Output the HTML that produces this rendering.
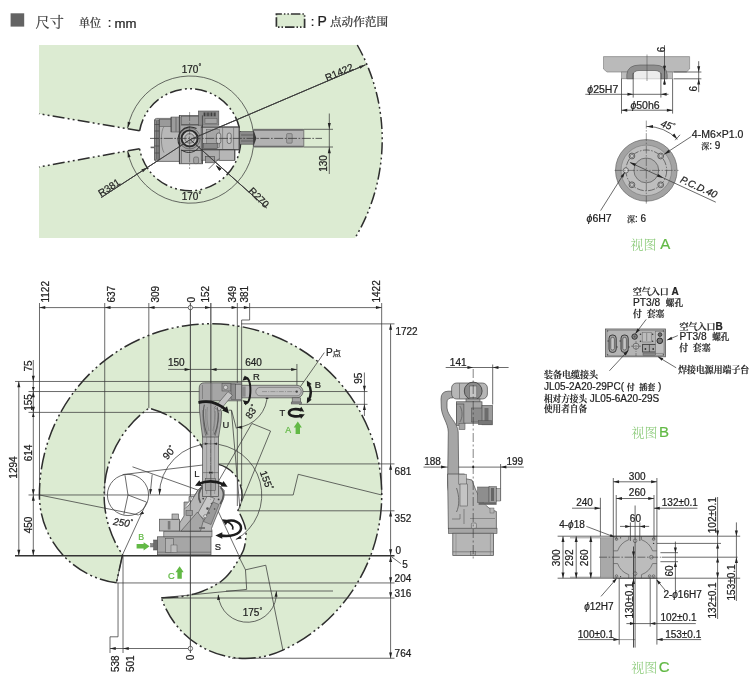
<!DOCTYPE html>
<html lang="zh-CN">
<head>
<meta charset="utf-8">
<title>尺寸</title>
<style>
html,body{margin:0;padding:0;background:#fff;}
body{width:752px;height:677px;overflow:hidden;font-family:"Liberation Sans","Noto Serif CJK SC",sans-serif;}
svg{display:block;will-change:transform;}
text{white-space:pre;}
</style>
</head>
<body>
<svg width="752" height="677" viewBox="0 0 752 677">
<rect x="0" y="0" width="752" height="677" fill="#ffffff"/>
<rect x="10.6" y="13.3" width="13.6" height="13.3" rx="0" fill="#636363" stroke="none" stroke-width="0.6" />
<text x="35.5" y="26.8" font-size="14.2" text-anchor="start" fill="#3c3c3c" stroke="#3c3c3c" stroke-width="0.22" font-family='"Liberation Sans", "Noto Serif CJK SC", serif' >尺寸</text>
<text x="79" y="27" font-size="11" text-anchor="start" fill="#3a3a3a" stroke="#3a3a3a" stroke-width="0.22" font-family='"Liberation Sans", "Noto Serif CJK SC", serif' font-weight="500" >单位</text>
<text x="107.8" y="27.2" font-size="13" text-anchor="start" fill="#222" stroke="#222" stroke-width="0.22" font-family='"Liberation Sans", sans-serif' >:</text>
<text x="114.6" y="27.6" font-size="13.2" text-anchor="start" fill="#222" stroke="#222" stroke-width="0.22" font-family='"Liberation Sans", sans-serif' >mm</text>
<rect x="276.4" y="14" width="28.2" height="13.2" rx="0" fill="#dcebd2" stroke="#333" stroke-width="1.7" stroke-dasharray="9.5 2 1.5 2 1.5 2" stroke-dashoffset="4"/>
<text x="310.8" y="25.6" font-size="13" text-anchor="start" fill="#222" stroke="#222" stroke-width="0.22" font-family='"Liberation Sans", sans-serif' >:</text>
<text x="317.4" y="26.4" font-size="14" text-anchor="start" fill="#222" stroke="#222" stroke-width="0.22" font-family='"Liberation Sans", sans-serif' >P</text>
<text x="330" y="25.8" font-size="11.6" text-anchor="start" fill="#3a3a3a" stroke="#3a3a3a" stroke-width="0.22" font-family='"Liberation Sans", "Noto Serif CJK SC", serif' font-weight="500" >点动作范围</text>
<path d="M39,45 L357.28,45 A192.0,192.0 0 0 1 355.07,238 L39,238 L39,167 L139.6,148.7 A51.0,51.0 0 1 0 139.6,130.8 L39,113.75 Z" fill="#dcebd2" stroke="none" stroke-width="0" />
<path d="M357.28,45 A192.0,192.0 0 0 1 355.07,238" fill="none" stroke="#2e2e2e" stroke-width="1.5" stroke-dasharray="12 3.2 1.9 3.2 1.9 3.2" stroke-linecap="butt"/>
<path d="M139.6,130.8 L39,113.75" fill="none" stroke="#2e2e2e" stroke-width="1.5" stroke-dasharray="12 3.2 1.9 3.2 1.9 3.2" stroke-linecap="butt"/>
<path d="M139.6,148.7 L39,167" fill="none" stroke="#2e2e2e" stroke-width="1.5" stroke-dasharray="12 3.2 1.9 3.2 1.9 3.2" stroke-linecap="butt"/>
<path d="M139.6,130.8 A51.0,51.0 0 1 1 139.6,148.7" fill="none" stroke="#2e2e2e" stroke-width="1.5" stroke-dasharray="12 3.2 1.9 3.2 1.9 3.2" stroke-linecap="butt"/>
<path d="M127.62,128.23 A63.6,63.6 0 1 1 127.62,150.97" fill="none" stroke="#3a3a3a" stroke-width="0.75" />
<path d="M127.62,128.23 L127.73,121.73 L130.64,122.47 Z" fill="#222"/>
<path d="M127.62,150.97 L130.64,156.73 L127.73,157.47 Z" fill="#222"/>
<text x="191.5" y="72.6" font-size="10" text-anchor="middle" fill="#222" stroke="#222" stroke-width="0.22" font-family='"Liberation Sans", sans-serif' >170<tspan font-size="7" dy="-3.2">°</tspan></text>
<text x="191.5" y="200.3" font-size="10" text-anchor="middle" fill="#222" stroke="#222" stroke-width="0.22" font-family='"Liberation Sans", sans-serif' >170<tspan font-size="7" dy="-3.2">°</tspan></text>
<line x1="190.2" y1="139.6" x2="365.5" y2="64.8" stroke="#3a3a3a" stroke-width="0.75" />
<path d="M365.5,64.8 L360.27,68.66 L359.09,65.9 Z" fill="#222"/>
<text x="340.5" y="75.5" font-size="10" text-anchor="middle" fill="#222" stroke="#222" stroke-width="0.22" font-family='"Liberation Sans", sans-serif' transform="rotate(-23.5 340.5 75.5)" >R1422</text>
<line x1="190.2" y1="139.6" x2="101.25" y2="197.5" stroke="#3a3a3a" stroke-width="0.75" />
<path d="M147.46,167.42 L142.97,172.13 L141.34,169.62 Z" fill="#222"/>
<text x="111" y="190.5" font-size="10" text-anchor="middle" fill="#222" stroke="#222" stroke-width="0.22" font-family='"Liberation Sans", sans-serif' transform="rotate(-33 111 190.5)" >R381</text>
<line x1="190.2" y1="139.6" x2="266.5" y2="207.8" stroke="#3a3a3a" stroke-width="0.75" />
<path d="M215.87,165.27 L221.4,168.68 L219.28,170.8 Z" fill="#222"/>
<text x="256.5" y="200" font-size="10" text-anchor="middle" fill="#222" stroke="#222" stroke-width="0.22" font-family='"Liberation Sans", sans-serif' transform="rotate(45 256.5 200)" >R270</text>
<line x1="303.5" y1="129.3" x2="333" y2="129.3" stroke="#3a3a3a" stroke-width="0.75" />
<line x1="303.5" y1="147" x2="333" y2="147" stroke="#3a3a3a" stroke-width="0.75" />
<line x1="329.3" y1="113.5" x2="329.3" y2="174" stroke="#3a3a3a" stroke-width="0.75" />
<path d="M329.3,129.3 L327.8,122.98 L330.8,122.98 Z" fill="#222"/>
<path d="M329.3,147 L330.8,153.32 L327.8,153.32 Z" fill="#222"/>
<text x="327.2" y="163.5" font-size="10" text-anchor="middle" fill="#222" stroke="#222" stroke-width="0.22" font-family='"Liberation Sans", sans-serif' transform="rotate(-90 327.2 163.5)" >130</text>
<rect x="253.4" y="129.3" width="50.4" height="17.8" rx="1" fill="#b2b2b2" stroke="#5a5a5a" stroke-width="0.7" />
<rect x="286.6" y="133.6" width="5.6" height="9.6" rx="1" fill="#a2a2a2" stroke="#555" stroke-width="0.5" />
<line x1="253.6" y1="130" x2="303.6" y2="130" stroke="#6a6a6a" stroke-width="1.3" />
<line x1="253.6" y1="146.4" x2="303.6" y2="146.4" stroke="#6a6a6a" stroke-width="1.3" />
<rect x="239" y="131.6" width="14.4" height="12.6" rx="0" fill="#8a8a8a" stroke="#4a4a4a" stroke-width="0.6" />
<line x1="241" y1="135" x2="253" y2="135" stroke="#444" stroke-width="0.6" />
<line x1="241" y1="141" x2="253" y2="141" stroke="#444" stroke-width="0.6" />
<path d="M253.4,129.6 L253.4,146.8 L256.4,138.2 Z" fill="#3a3a3a" stroke="none" stroke-width="0" />
<rect x="154.6" y="118.4" width="26.4" height="43" rx="2" fill="#b8b8b8" stroke="#4a4a4a" stroke-width="0.7" />
<rect x="154.6" y="120" width="4.6" height="40" rx="0" fill="#8c8c8c" stroke="#4a4a4a" stroke-width="0.5" />
<rect x="159.2" y="119.4" width="12" height="7" rx="0" fill="#9a9a9a" stroke="#4a4a4a" stroke-width="0.5" />
<rect x="150.6" y="146.6" width="4" height="1.6" rx="0" fill="#666" stroke="none" stroke-width="0.6" />
<path d="M164,126.5 C160.5,131 160.5,147 164,152.6" fill="none" stroke="#666" stroke-width="0.6" />
<rect x="179.4" y="115.4" width="23" height="48.4" rx="0" fill="#a9a9a9" stroke="#4a4a4a" stroke-width="0.7" />
<rect x="171" y="117" width="9" height="15" rx="0" fill="#9c9c9c" stroke="#4a4a4a" stroke-width="0.5" />
<rect x="181.4" y="150.6" width="20" height="13" rx="0" fill="#b4b4b4" stroke="#4a4a4a" stroke-width="0.5" />
<rect x="193.6" y="157" width="5" height="6.6" rx="1.6" fill="#a2a2a2" stroke="#4a4a4a" stroke-width="0.5" />
<rect x="198.4" y="111" width="20.4" height="14.2" rx="0" fill="#8c8c8c" stroke="#4a4a4a" stroke-width="0.6" />
<rect x="203" y="112.4" width="13" height="4" rx="0" fill="#6e6e6e" stroke="none" stroke-width="0.6" />
<rect x="205" y="118.6" width="12" height="4.6" rx="0" fill="#a4a4a4" stroke="#555" stroke-width="0.4" />
<rect x="181.6" y="116.6" width="17" height="8" rx="0" fill="#9e9e9e" stroke="#4a4a4a" stroke-width="0.5" />
<rect x="201.2" y="127" width="38" height="22.8" rx="0" fill="#b8b8b8" stroke="#4a4a4a" stroke-width="0.7" />
<rect x="206.4" y="129.4" width="13" height="18" rx="0" fill="#a6a6a6" stroke="#666" stroke-width="0.5" />
<rect x="216.4" y="133" width="4.4" height="10.6" rx="2" fill="#c6c6c6" stroke="#444" stroke-width="0.6" />
<rect x="227.2" y="133" width="4" height="10.6" rx="2" fill="#c6c6c6" stroke="#444" stroke-width="0.6" />
<rect x="201.2" y="149.8" width="33.6" height="10.4" rx="0" fill="#adadad" stroke="#4a4a4a" stroke-width="0.6" />
<rect x="205.6" y="156.6" width="9" height="6.2" rx="0" fill="#9a9a9a" stroke="#444" stroke-width="0.6" />
<rect x="219.2" y="149.8" width="15.6" height="10.4" rx="0" fill="#b6b6b6" stroke="#4a4a4a" stroke-width="0.5" />
<circle cx="189.6" cy="138.4" r="10.6" fill="#9a9a9a" stroke="#555" stroke-width="0.6" />
<circle cx="189.6" cy="138.4" r="8" fill="#c4c4c4" stroke="#2a2a2a" stroke-width="1.9" />
<circle cx="189.6" cy="138.4" r="4.8" fill="#b4b4b4" stroke="#444" stroke-width="0.6" />
<line x1="150" y1="138.4" x2="322" y2="138.4" stroke="#3a3a3a" stroke-width="0.5" stroke-dasharray="9 1.6 1.6 1.6"/>
<line x1="189.6" y1="112" x2="189.6" y2="169" stroke="#3a3a3a" stroke-width="0.5" stroke-dasharray="9 1.6 1.6 1.6"/>
<line x1="208.8" y1="168.8" x2="219" y2="158.6" stroke="#3a3a3a" stroke-width="0.75" />
<line x1="190.2" y1="139.6" x2="365.5" y2="64.8" stroke="#3a3a3a" stroke-width="0.75" />
<line x1="190.2" y1="139.6" x2="101.25" y2="197.5" stroke="#3a3a3a" stroke-width="0.75" />
<line x1="190.2" y1="139.6" x2="266.5" y2="207.8" stroke="#3a3a3a" stroke-width="0.75" />
<path d="M215.87,165.27 L221.4,168.68 L219.28,170.8 Z" fill="#222"/>
<line x1="156.8" y1="121" x2="156.8" y2="159" stroke="#3c3c3c" stroke-width="0.6" />
<line x1="159.2" y1="120" x2="159.2" y2="160" stroke="#3c3c3c" stroke-width="0.7" />
<line x1="154.6" y1="124.5" x2="159.2" y2="124.5" stroke="#3c3c3c" stroke-width="0.6" />
<line x1="154.6" y1="131" x2="159.2" y2="131" stroke="#3c3c3c" stroke-width="0.6" />
<line x1="154.6" y1="146" x2="159.2" y2="146" stroke="#3c3c3c" stroke-width="0.6" />
<line x1="154.6" y1="153" x2="159.2" y2="153" stroke="#3c3c3c" stroke-width="0.6" />
<line x1="171.2" y1="117" x2="171.2" y2="132" stroke="#3c3c3c" stroke-width="0.7" />
<line x1="176" y1="117.4" x2="176" y2="131.6" stroke="#3c3c3c" stroke-width="0.5" />
<line x1="179.4" y1="115.4" x2="179.4" y2="163.8" stroke="#3c3c3c" stroke-width="0.9" />
<line x1="202.4" y1="115.4" x2="202.4" y2="163.8" stroke="#3c3c3c" stroke-width="0.8" />
<line x1="181" y1="150.4" x2="202" y2="150.4" stroke="#3c3c3c" stroke-width="0.7" />
<line x1="181" y1="125" x2="199" y2="125" stroke="#3c3c3c" stroke-width="0.7" />
<path d="M196.5,128.6 A12.4,12.4 0 0 0 180.2,146.5" fill="none" stroke="#2e2e2e" stroke-width="1.1" />
<path d="M181.5,150 A12.4,12.4 0 0 0 199.6,146.4" fill="none" stroke="#2e2e2e" stroke-width="1.0" />
<line x1="204.6" y1="112.6" x2="204.6" y2="116.2" stroke="#2a2a2a" stroke-width="0.8" />
<line x1="208" y1="112.6" x2="208" y2="116.2" stroke="#2a2a2a" stroke-width="0.8" />
<line x1="211.4" y1="112.6" x2="211.4" y2="116.2" stroke="#2a2a2a" stroke-width="0.8" />
<line x1="214.8" y1="112.6" x2="214.8" y2="116.2" stroke="#2a2a2a" stroke-width="0.8" />
<line x1="201.2" y1="127" x2="239.2" y2="127" stroke="#3c3c3c" stroke-width="0.9" />
<line x1="201.2" y1="149.8" x2="239.2" y2="149.8" stroke="#3c3c3c" stroke-width="0.8" />
<line x1="239.2" y1="127" x2="239.2" y2="149.8" stroke="#3c3c3c" stroke-width="0.9" />
<line x1="222.6" y1="127.4" x2="222.6" y2="149.6" stroke="#555" stroke-width="0.5" />
<line x1="233.6" y1="127.4" x2="233.6" y2="149.6" stroke="#555" stroke-width="0.5" />
<rect x="203.2" y="143.6" width="14" height="5" rx="0" fill="#8a8a8a" stroke="#3c3c3c" stroke-width="0.5" />
<line x1="234.8" y1="150" x2="234.8" y2="160.2" stroke="#3c3c3c" stroke-width="0.8" />
<line x1="190.2" y1="139.6" x2="365.5" y2="64.8" stroke="#3a3a3a" stroke-width="0.75" />
<line x1="190.2" y1="139.6" x2="101.25" y2="197.5" stroke="#3a3a3a" stroke-width="0.75" />
<line x1="190.2" y1="139.6" x2="266.5" y2="207.8" stroke="#3a3a3a" stroke-width="0.75" />
<line x1="150" y1="138.4" x2="322" y2="138.4" stroke="#3a3a3a" stroke-width="0.5" stroke-dasharray="9 1.6 1.6 1.6"/>
<path d="M116.4,582.8 A88.57,88.57 0 0 1 39.42,494.98 A171.15,171.15 0 1 1 282.91,650.09 A88.57,88.57 0 0 1 161.4,597.8 C162.67,597.77 166.47,597.72 169,597.6 C171.53,597.48 173.85,597.38 176.6,597.1 C179.35,596.82 182.55,596.43 185.5,595.9 C188.45,595.37 191.47,594.68 194.3,593.9 C197.13,593.12 199.83,592.23 202.5,591.2 C205.17,590.17 208.05,588.78 210.3,587.7 C212.55,586.62 214.23,585.73 216,584.7 C217.77,583.67 219.32,582.7 220.9,581.5 C222.48,580.3 224.02,578.97 225.5,577.5 C226.98,576.03 228.38,574.45 229.8,572.7 C231.22,570.95 232.63,568.98 234,567 C235.37,565.02 236.8,562.83 238,560.8 C239.2,558.77 240.25,556.68 241.2,554.8 C242.15,552.92 243,551.67 243.7,549.5 C244.4,547.33 245.02,544.63 245.4,541.8 C245.78,538.97 246.15,535.33 246,532.5 C245.85,529.67 245.27,527.38 244.5,524.8 C243.73,522.22 242.48,519.4 241.4,517 C240.32,514.6 238.57,511.5 238,510.4 A31.7,31.7 0 0 0 210.28,463.28 A89.26,89.26 0 0 0 148.9,408.2 A106.46,106.46 0 0 0 122.52,554.81 L116.4,582.8 Z" fill="#dcebd2" stroke="none" stroke-width="0" />
<line x1="39.49" y1="303" x2="39.49" y2="494.98" stroke="#3a3a3a" stroke-width="0.75" />
<line x1="104.72" y1="303" x2="104.72" y2="494.98" stroke="#3a3a3a" stroke-width="0.75" />
<line x1="148.84" y1="303" x2="148.84" y2="408.2" stroke="#3a3a3a" stroke-width="0.75" />
<line x1="190.4" y1="303" x2="190.4" y2="653" stroke="#3a3a3a" stroke-width="0.75" />
<line x1="210.84" y1="303" x2="210.84" y2="400" stroke="#3a3a3a" stroke-width="0.75" />
<line x1="237.34" y1="303" x2="237.34" y2="506" stroke="#3a3a3a" stroke-width="0.75" />
<path d="M249.64,303 L249.64,320 L241.64,320 L241.64,486" fill="none" stroke="#3a3a3a" stroke-width="0.75" />
<line x1="381.66" y1="303" x2="381.66" y2="494.98" stroke="#3a3a3a" stroke-width="0.75" />
<line x1="39.49" y1="307.6" x2="381.66" y2="307.6" stroke="#3a3a3a" stroke-width="0.75" />
<path d="M39.49,307.6 L45.24,306.1 L45.24,309.1 Z" fill="#222"/>
<path d="M104.72,307.6 L110.47,306.1 L110.47,309.1 Z" fill="#222"/>
<path d="M148.84,307.6 L154.59,306.1 L154.59,309.1 Z" fill="#222"/>
<path d="M210.84,307.6 L205.09,309.1 L205.09,306.1 Z" fill="#222"/>
<path d="M237.34,307.6 L231.59,309.1 L231.59,306.1 Z" fill="#222"/>
<path d="M249.64,307.6 L243.89,309.1 L243.89,306.1 Z" fill="#222"/>
<path d="M381.66,307.6 L375.91,309.1 L375.91,306.1 Z" fill="#222"/>
<circle cx="190.4" cy="307.6" r="2.2" fill="#fff" stroke="#3a3a3a" stroke-width="0.7" />
<text x="49.39" y="302.5" font-size="10" text-anchor="start" fill="#222" stroke="#222" stroke-width="0.22" font-family='"Liberation Sans", sans-serif' transform="rotate(-90 49.39 302.5)" >1122</text>
<text x="114.62" y="302.5" font-size="10" text-anchor="start" fill="#222" stroke="#222" stroke-width="0.22" font-family='"Liberation Sans", sans-serif' transform="rotate(-90 114.62 302.5)" >637</text>
<text x="158.74" y="302.5" font-size="10" text-anchor="start" fill="#222" stroke="#222" stroke-width="0.22" font-family='"Liberation Sans", sans-serif' transform="rotate(-90 158.74 302.5)" >309</text>
<text x="194.5" y="302.5" font-size="10" text-anchor="start" fill="#222" stroke="#222" stroke-width="0.22" font-family='"Liberation Sans", sans-serif' transform="rotate(-90 194.5 302.5)" >0</text>
<text x="209.44" y="302.5" font-size="10" text-anchor="start" fill="#222" stroke="#222" stroke-width="0.22" font-family='"Liberation Sans", sans-serif' transform="rotate(-90 209.44 302.5)" >152</text>
<text x="236.44" y="302.5" font-size="10" text-anchor="start" fill="#222" stroke="#222" stroke-width="0.22" font-family='"Liberation Sans", sans-serif' transform="rotate(-90 236.44 302.5)" >349</text>
<text x="248.44" y="302.5" font-size="10" text-anchor="start" fill="#222" stroke="#222" stroke-width="0.22" font-family='"Liberation Sans", sans-serif' transform="rotate(-90 248.44 302.5)" >381</text>
<text x="380.46" y="302.5" font-size="10" text-anchor="start" fill="#222" stroke="#222" stroke-width="0.22" font-family='"Liberation Sans", sans-serif' transform="rotate(-90 380.46 302.5)" >1422</text>
<line x1="241.3" y1="323.89" x2="394.5" y2="323.89" stroke="#3a3a3a" stroke-width="0.75" />
<line x1="15" y1="381.46" x2="304" y2="381.46" stroke="#3a3a3a" stroke-width="0.75" />
<line x1="28.5" y1="391.54" x2="367.5" y2="391.54" stroke="#3a3a3a" stroke-width="0.75" />
<line x1="28.5" y1="412.39" x2="204" y2="412.39" stroke="#3a3a3a" stroke-width="0.75" />
<line x1="299" y1="404.32" x2="367.5" y2="404.32" stroke="#3a3a3a" stroke-width="0.75" />
<line x1="15" y1="555.7" x2="394.5" y2="555.7" stroke="#333" stroke-width="1.4" />
<line x1="28.5" y1="494.98" x2="293.2" y2="494.98" stroke="#3a3a3a" stroke-width="0.75" />
<line x1="210.58" y1="463.91" x2="394.5" y2="463.91" stroke="#3a3a3a" stroke-width="0.75" />
<line x1="238" y1="510.8" x2="394.5" y2="510.8" stroke="#3a3a3a" stroke-width="0.75" />
<line x1="116.4" y1="582.94" x2="394.5" y2="582.94" stroke="#3a3a3a" stroke-width="0.75" />
<line x1="161.4" y1="598" x2="394.5" y2="598" stroke="#3a3a3a" stroke-width="0.75" />
<line x1="232" y1="658.26" x2="394.5" y2="658.26" stroke="#3a3a3a" stroke-width="0.75" />
<path d="M293.2,494.98 L298.2,474.3 L381.66,494.98" fill="none" stroke="#3a3a3a" stroke-width="0.75" />
<line x1="18.8" y1="381.46" x2="18.8" y2="555.5" stroke="#3a3a3a" stroke-width="0.75" />
<path d="M18.8,381.46 L20.3,387.21 L17.3,387.21 Z" fill="#222"/>
<path d="M18.8,555.5 L17.3,549.75 L20.3,549.75 Z" fill="#222"/>
<line x1="33.3" y1="360" x2="33.3" y2="555.5" stroke="#3a3a3a" stroke-width="0.75" />
<path d="M33.3,381.46 L31.8,375.71 L34.8,375.71 Z" fill="#222"/>
<path d="M33.3,391.54 L34.8,397.29 L31.8,397.29 Z" fill="#222"/>
<path d="M33.3,391.54 L31.95,386.94 L34.65,386.94 Z" fill="#222"/>
<path d="M33.3,412.39 L34.65,416.99 L31.95,416.99 Z" fill="#222"/>
<path d="M33.3,412.39 L31.8,406.64 L34.8,406.64 Z" fill="#222"/>
<path d="M33.3,494.98 L34.8,500.73 L31.8,500.73 Z" fill="#222"/>
<path d="M33.3,494.98 L31.8,489.23 L34.8,489.23 Z" fill="#222"/>
<path d="M33.3,555.5 L31.8,549.75 L34.8,549.75 Z" fill="#222"/>
<text x="16.9" y="467.5" font-size="10" text-anchor="middle" fill="#222" stroke="#222" stroke-width="0.22" font-family='"Liberation Sans", sans-serif' transform="rotate(-90 16.9 467.5)" >1294</text>
<text x="32" y="366" font-size="10" text-anchor="middle" fill="#222" stroke="#222" stroke-width="0.22" font-family='"Liberation Sans", sans-serif' transform="rotate(-90 32 366)" >75</text>
<text x="32" y="402.5" font-size="10" text-anchor="middle" fill="#222" stroke="#222" stroke-width="0.22" font-family='"Liberation Sans", sans-serif' transform="rotate(-90 32 402.5)" >155</text>
<text x="32" y="453" font-size="10" text-anchor="middle" fill="#222" stroke="#222" stroke-width="0.22" font-family='"Liberation Sans", sans-serif' transform="rotate(-90 32 453)" >614</text>
<text x="32" y="525" font-size="10" text-anchor="middle" fill="#222" stroke="#222" stroke-width="0.22" font-family='"Liberation Sans", sans-serif' transform="rotate(-90 32 525)" >450</text>
<line x1="390.6" y1="323.89" x2="390.6" y2="658.26" stroke="#3a3a3a" stroke-width="0.75" />
<path d="M390.6,323.89 L392.1,329.64 L389.1,329.64 Z" fill="#222"/>
<path d="M390.6,463.91 L392.1,469.66 L389.1,469.66 Z" fill="#222"/>
<path d="M390.6,510.8 L392.1,516.55 L389.1,516.55 Z" fill="#222"/>
<path d="M390.6,555 L389.1,549.25 L392.1,549.25 Z" fill="#222"/>
<path d="M390.6,556.3 L392.1,562.05 L389.1,562.05 Z" fill="#222"/>
<path d="M390.6,582.94 L389.1,577.19 L392.1,577.19 Z" fill="#222"/>
<path d="M390.6,598 L389.1,592.25 L392.1,592.25 Z" fill="#222"/>
<path d="M390.6,658.26 L389.1,652.51 L392.1,652.51 Z" fill="#222"/>
<text x="395.4" y="335" font-size="10" text-anchor="start" fill="#222" stroke="#222" stroke-width="0.22" font-family='"Liberation Sans", sans-serif' >1722</text>
<text x="394.6" y="474.9" font-size="10" text-anchor="start" fill="#222" stroke="#222" stroke-width="0.22" font-family='"Liberation Sans", sans-serif' >681</text>
<text x="394.6" y="521.7" font-size="10" text-anchor="start" fill="#222" stroke="#222" stroke-width="0.22" font-family='"Liberation Sans", sans-serif' >352</text>
<text x="395.6" y="553.6" font-size="10" text-anchor="start" fill="#222" stroke="#222" stroke-width="0.22" font-family='"Liberation Sans", sans-serif' >0</text>
<text x="402.2" y="568.2" font-size="10" text-anchor="start" fill="#222" stroke="#222" stroke-width="0.22" font-family='"Liberation Sans", sans-serif' >5</text>
<line x1="391.2" y1="556.6" x2="400.8" y2="563.6" stroke="#3a3a3a" stroke-width="0.75" />
<text x="394.6" y="581.8" font-size="10" text-anchor="start" fill="#222" stroke="#222" stroke-width="0.22" font-family='"Liberation Sans", sans-serif' >204</text>
<text x="394.6" y="596.6" font-size="10" text-anchor="start" fill="#222" stroke="#222" stroke-width="0.22" font-family='"Liberation Sans", sans-serif' >316</text>
<text x="394.6" y="656.6" font-size="10" text-anchor="start" fill="#222" stroke="#222" stroke-width="0.22" font-family='"Liberation Sans", sans-serif' >764</text>
<line x1="364.4" y1="372.5" x2="364.4" y2="416" stroke="#3a3a3a" stroke-width="0.75" />
<path d="M364.4,391.54 L362.9,385.79 L365.9,385.79 Z" fill="#222"/>
<path d="M364.4,404.32 L365.9,410.07 L362.9,410.07 Z" fill="#222"/>
<text x="362.2" y="378.2" font-size="10" text-anchor="middle" fill="#222" stroke="#222" stroke-width="0.22" font-family='"Liberation Sans", sans-serif' transform="rotate(-90 362.2 378.2)" >95</text>
<line x1="210.84" y1="369.4" x2="296.92" y2="369.4" stroke="#3a3a3a" stroke-width="0.75" />
<path d="M210.84,369.4 L216.59,367.9 L216.59,370.9 Z" fill="#222"/>
<path d="M296.92,369.4 L291.17,370.9 L291.17,367.9 Z" fill="#222"/>
<line x1="296.92" y1="364" x2="296.92" y2="392" stroke="#3a3a3a" stroke-width="0.75" />
<text x="253.6" y="365.7" font-size="10" text-anchor="middle" fill="#222" stroke="#222" stroke-width="0.22" font-family='"Liberation Sans", sans-serif' >640</text>
<line x1="168" y1="369.4" x2="210.84" y2="369.4" stroke="#3a3a3a" stroke-width="0.75" />
<path d="M190.4,369.4 L184.65,370.9 L184.65,367.9 Z" fill="#222"/>
<text x="176.3" y="366" font-size="10" text-anchor="middle" fill="#222" stroke="#222" stroke-width="0.22" font-family='"Liberation Sans", sans-serif' >150</text>
<line x1="296.92" y1="391.54" x2="324.3" y2="352.6" stroke="#3a3a3a" stroke-width="0.75" />
<text x="326" y="355.8" font-size="10" text-anchor="start" fill="#222" stroke="#222" stroke-width="0.22" font-family='"Liberation Sans", sans-serif' >P</text>
<text x="332.6" y="355.6" font-size="8.5" text-anchor="start" fill="#222" stroke="#222" stroke-width="0.22" font-family='"Liberation Sans","Noto Sans CJK SC",sans-serif' >点</text>
<line x1="118.04" y1="582.8" x2="118.04" y2="636.8" stroke="#3a3a3a" stroke-width="0.75" />
<path d="M118.04,636.8 L110,636.8 L110,653" fill="none" stroke="#3a3a3a" stroke-width="0.75" />
<line x1="123.02" y1="555.5" x2="123.02" y2="653" stroke="#3a3a3a" stroke-width="0.75" />
<line x1="110" y1="648.5" x2="190.4" y2="648.5" stroke="#3a3a3a" stroke-width="0.75" />
<path d="M110,648.5 L115.75,647 L115.75,650 Z" fill="#222"/>
<path d="M123.02,648.5 L128.77,647 L128.77,650 Z" fill="#222"/>
<circle cx="190.4" cy="648.5" r="2.2" fill="#fff" stroke="#3a3a3a" stroke-width="0.7" />
<text x="119.2" y="672" font-size="10" text-anchor="start" fill="#222" stroke="#222" stroke-width="0.22" font-family='"Liberation Sans", sans-serif' transform="rotate(-90 119.2 672)" >538</text>
<text x="133.6" y="672" font-size="10" text-anchor="start" fill="#222" stroke="#222" stroke-width="0.22" font-family='"Liberation Sans", sans-serif' transform="rotate(-90 133.6 672)" >501</text>
<text x="194" y="660.2" font-size="10" text-anchor="start" fill="#222" stroke="#222" stroke-width="0.22" font-family='"Liberation Sans", sans-serif' transform="rotate(-90 194 660.2)" >0</text>
<path d="M159.38,494.98 A51.2,51.2 0 0 1 210.58,443.78 A51.2,51.2 0 0 1 235.79,539.54" fill="none" stroke="#3a3a3a" stroke-width="0.75" />
<path d="M159.38,494.68 L158.28,488.83 L161.27,489.04 Z" fill="#222"/>
<path d="M235.79,539.54 L240.4,535.79 L241.64,538.52 Z" fill="#222"/>
<path d="M207.38,443.78 L211.98,442.43 L211.98,445.13 Z" fill="#222"/>
<text x="171.8" y="455" font-size="10" text-anchor="middle" fill="#222" stroke="#222" stroke-width="0.22" font-family='"Liberation Sans", sans-serif' transform="rotate(-50 171.8 455)" >90<tspan font-size="7" dy="-3.2">°</tspan></text>
<text x="263.2" y="481.5" font-size="10" text-anchor="middle" fill="#222" stroke="#222" stroke-width="0.22" font-family='"Liberation Sans", sans-serif' transform="rotate(70 263.2 481.5)" >155<tspan font-size="7" dy="-3.2">°</tspan></text>
<line x1="210.58" y1="494.98" x2="238.47" y2="554.79" stroke="#3a3a3a" stroke-width="0.75" />
<path d="M238.3,555.5 L245.48,569.82 L246.68,589.42" fill="none" stroke="#3a3a3a" stroke-width="0.75" />
<path d="M245.48,569.82 L265.78,565.22 L282.91,650.09" fill="none" stroke="#3a3a3a" stroke-width="0.75" />
<line x1="161.4" y1="597.8" x2="246.68" y2="589.42" stroke="#3a3a3a" stroke-width="0.75" />
<line x1="226" y1="591" x2="333" y2="591" stroke="#3a3a3a" stroke-width="0.75" />
<path d="M218.3,595 A29,29 0 0 0 276.4,591.3" fill="none" stroke="#3a3a3a" stroke-width="0.75" />
<path d="M218.2,594.2 L220.1,599.83 L217.1,600.04 Z" fill="#222"/>
<path d="M276.4,591 L277.5,596.84 L274.5,596.63 Z" fill="#222"/>
<text x="252.5" y="616" font-size="10" text-anchor="middle" fill="#222" stroke="#222" stroke-width="0.22" font-family='"Liberation Sans", sans-serif' >175<tspan font-size="7" dy="-3.2">°</tspan></text>
<path d="M267.2,393.5 A33,33 0 0 1 236.6,427.6" fill="none" stroke="#3a3a3a" stroke-width="0.75" />
<path d="M267.2,393.3 L268.5,399.1 L265.5,398.99 Z" fill="#222"/>
<path d="M236.4,427.6 L242.03,425.7 L242.24,428.7 Z" fill="#222"/>
<text x="254.4" y="413.8" font-size="10" text-anchor="middle" fill="#222" stroke="#222" stroke-width="0.22" font-family='"Liberation Sans", sans-serif' transform="rotate(-55 254.4 413.8)" >83<tspan font-size="7" dy="-3.2">°</tspan></text>
<line x1="216.58" y1="484.48" x2="251.87" y2="423.46" stroke="#3a3a3a" stroke-width="0.75" />
<path d="M251.87,423.46 L270.57,431.06 L238,510.4" fill="none" stroke="#3a3a3a" stroke-width="0.75" />
<path d="M228.4,410.2 L231.4,410.2 L239.9,508.6" fill="none" stroke="#3a3a3a" stroke-width="0.75" />
<line x1="231.6" y1="410.4" x2="236.4" y2="428.6" stroke="#3a3a3a" stroke-width="0.75" />
<circle cx="127.99" cy="494.98" r="20.6" fill="none" stroke="#3a3a3a" stroke-width="0.75" />
<line x1="39.42" y1="494.98" x2="138.8" y2="515" stroke="#3a3a3a" stroke-width="0.75" />
<path d="M138.8,515 L142.53,511.11 L144.03,513.71 Z" fill="#222"/>
<line x1="152.2" y1="474.5" x2="150.2" y2="494" stroke="#3a3a3a" stroke-width="0.75" />
<path d="M146.8,502.1 L122.52,554.81 L116.4,582.8" fill="none" stroke="#3a3a3a" stroke-width="0.75" />
<line x1="127.99" y1="494.98" x2="146.3" y2="502" stroke="#3a3a3a" stroke-width="0.75" />
<line x1="127.99" y1="494.98" x2="125" y2="475.3" stroke="#3a3a3a" stroke-width="0.75" />
<line x1="127.99" y1="494.98" x2="123.8" y2="514.6" stroke="#3a3a3a" stroke-width="0.75" />
<path d="M150.1,494.8 L149.21,488.92 L152.19,489.24 Z" fill="#222"/>
<text x="122.4" y="526" font-size="10" text-anchor="middle" fill="#222" stroke="#222" stroke-width="0.22" font-family='"Liberation Sans", sans-serif' font-style="italic" transform="rotate(8 122.4 526)" >250<tspan font-size="7" dy="-3.2">°</tspan></text>
<line x1="132.5" y1="466.8" x2="200" y2="490.8" stroke="#3a3a3a" stroke-width="0.75" />
<line x1="122.6" y1="474.6" x2="209.6" y2="464.2" stroke="#3a3a3a" stroke-width="0.75" />
<path d="M116.4,582.8 A88.57,88.57 0 0 1 39.42,494.98 A171.15,171.15 0 1 1 282.91,650.09 A88.57,88.57 0 0 1 161.4,597.8 " fill="none" stroke="#2e2e2e" stroke-width="1.5" stroke-dasharray="17 3.2 2 3.2 2 3.2" stroke-linecap="butt"/>
<path d="M161.4,597.8 C162.67,597.77 166.47,597.72 169,597.6 C171.53,597.48 173.85,597.38 176.6,597.1 C179.35,596.82 182.55,596.43 185.5,595.9 C188.45,595.37 191.47,594.68 194.3,593.9 C197.13,593.12 199.83,592.23 202.5,591.2 C205.17,590.17 208.05,588.78 210.3,587.7 C212.55,586.62 214.23,585.73 216,584.7 C217.77,583.67 219.32,582.7 220.9,581.5 C222.48,580.3 224.02,578.97 225.5,577.5 C226.98,576.03 228.38,574.45 229.8,572.7 C231.22,570.95 232.63,568.98 234,567 C235.37,565.02 236.8,562.83 238,560.8 C239.2,558.77 240.25,556.68 241.2,554.8 C242.15,552.92 243,551.67 243.7,549.5 C244.4,547.33 245.02,544.63 245.4,541.8 C245.78,538.97 246.15,535.33 246,532.5 C245.85,529.67 245.27,527.38 244.5,524.8 C243.73,522.22 242.48,519.4 241.4,517 C240.32,514.6 238.57,511.5 238,510.4 A31.7,31.7 0 0 0 210.28,463.28 A89.26,89.26 0 0 0 148.9,408.2 A106.46,106.46 0 0 0 122.52,554.81 L116.4,582.8" fill="none" stroke="#2e2e2e" stroke-width="1.5" stroke-dasharray="17 3.2 2 3.2 2 3.2" stroke-linecap="butt"/>
<rect x="153.6" y="540" width="4" height="10" rx="0" fill="#6e6e6e" stroke="#4a4a4a" stroke-width="0.5" />
<rect x="150.6" y="543.5" width="3" height="3.5" rx="0" fill="#8a8a8a" stroke="#4a4a4a" stroke-width="0.4" />
<rect x="157.4" y="536.8" width="53.6" height="18" rx="0" fill="#a6a6a6" stroke="#4a4a4a" stroke-width="0.7" />
<rect x="163.8" y="531.2" width="48.2" height="5.6" rx="0" fill="#b6b6b6" stroke="#4a4a4a" stroke-width="0.6" />
<line x1="157.4" y1="552.2" x2="211" y2="552.2" stroke="#4a4a4a" stroke-width="0.5" />
<rect x="165.5" y="538.5" width="8" height="14" rx="0" fill="#b2b2b2" stroke="#4a4a4a" stroke-width="0.5" />
<rect x="171" y="545" width="6" height="7.5" rx="0" fill="#bcbcbc" stroke="#4a4a4a" stroke-width="0.4" />
<line x1="190.4" y1="536.8" x2="190.4" y2="554.8" stroke="#4a4a4a" stroke-width="0.5" />
<rect x="159.6" y="519.2" width="20" height="11.8" rx="0" fill="#b6b6b6" stroke="#4a4a4a" stroke-width="0.7" />
<rect x="172" y="514" width="6.5" height="5.2" rx="0" fill="#b6b6b6" stroke="#4a4a4a" stroke-width="0.6" />
<rect x="167.8" y="521" width="2.6" height="8.5" rx="0" fill="#7a7a7a" stroke="none" stroke-width="0.6" />
<path d="M179.6,531.2 L179.6,523 L184,516 L184,509 L189,505 L198,490 L202,486 L220,486 L224.2,490.5 L224,497 L219.4,509 L214,522 L211.5,528.5 L212,531.2 Z" fill="#b6b6b6" stroke="#4a4a4a" stroke-width="0.7" />
<path d="M197.5,514 L207.5,495.5 L214.5,498.5 L204.5,519.5 Z" fill="#c8c8c8" stroke="#4a4a4a" stroke-width="0.6" />
<path d="M181,531 L197.5,512 L203.5,520 L200.5,531 Z" fill="#a6a6a6" stroke="#4a4a4a" stroke-width="0.6" />
<path d="M203.5,521.5 L213,502 L219,504.5 L211,524.5 Z" fill="#9a9a9a" stroke="#4a4a4a" stroke-width="0.5" />
<circle cx="207.5" cy="508.6" r="1.3" fill="#555" stroke="none" stroke-width="0.75" />
<circle cx="205.2" cy="516.2" r="1.6" fill="#ddd" stroke="#4a4a4a" stroke-width="0.5" />
<circle cx="211.5" cy="503.5" r="0.8" fill="#555" stroke="none" stroke-width="0.75" />
<rect x="199" y="527.2" width="6" height="1.6" rx="0" fill="#666" stroke="none" stroke-width="0.6" />
<path d="M200.5,503 C197.5,497 198.5,490 202.5,487" fill="none" stroke="#555" stroke-width="1.6" />
<path d="M220.5,487.5 C224.5,491 224.5,498 220,504" fill="none" stroke="#555" stroke-width="1.6" />
<rect x="202.6" y="430" width="16" height="66.5" rx="0" fill="#b6b6b6" stroke="#4a4a4a" stroke-width="0.7" />
<line x1="206.6" y1="436" x2="206.6" y2="494" stroke="#777" stroke-width="0.5" />
<line x1="214.6" y1="436" x2="214.6" y2="494" stroke="#777" stroke-width="0.5" />
<line x1="210.6" y1="440" x2="210.6" y2="500" stroke="#666" stroke-width="0.4" stroke-dasharray="5 1.2 1 1.2"/>
<rect x="205.6" y="478.5" width="10" height="12" rx="0" fill="#a2a2a2" stroke="#4a4a4a" stroke-width="0.5" />
<line x1="203" y1="443.8" x2="218.2" y2="443.8" stroke="#4a4a4a" stroke-width="0.5" />
<line x1="203" y1="472.6" x2="218.2" y2="472.6" stroke="#4a4a4a" stroke-width="0.5" />
<path d="M199.6,402 L199.4,410 L201,425 L202.6,437 L218.6,437 L221,422 L221.6,412 L219,405 L210,400 Z" fill="#a6a6a6" stroke="#4a4a4a" stroke-width="0.7" />
<path d="M203,410 C202.6,420 204,430 206,436" fill="none" stroke="#666" stroke-width="0.8" />
<path d="M218.6,413 C218.6,422 217,430 215,436" fill="none" stroke="#666" stroke-width="0.8" />
<path d="M205.6,409 C205,418 206.4,428 208,435 M215.4,411 C215.6,420 214.4,428 213,435" fill="none" stroke="#777" stroke-width="0.5" />
<path d="M199.2,400.8 L199.2,388 Q199.2,382.8 204.5,382.8 L241.6,382.8 L241.6,400.8 Z" fill="#a6a6a6" stroke="#4a4a4a" stroke-width="0.7" />
<rect x="222" y="383.6" width="9" height="7.4" rx="0" fill="#9b9b9b" stroke="#4a4a4a" stroke-width="0.5" />
<circle cx="225.6" cy="387.4" r="2.1" fill="#d0d0d0" stroke="#4a4a4a" stroke-width="0.5" />
<rect x="231" y="384" width="4.5" height="15.5" rx="0" fill="#8e8e8e" stroke="#4a4a4a" stroke-width="0.5" />
<rect x="235.5" y="384.6" width="6" height="15" rx="0" fill="#b0b0b0" stroke="#4a4a4a" stroke-width="0.5" />
<line x1="202.5" y1="385" x2="202.5" y2="399" stroke="#6a6a6a" stroke-width="0.6" />
<line x1="212" y1="383" x2="212" y2="400" stroke="#777" stroke-width="0.5" />
<path d="M214.6,407.5 L228,391.6 L232.4,395.2 L219.4,411 Z" fill="#c2c2c2" stroke="#4a4a4a" stroke-width="0.6" />
<path d="M241.8,385.3 L296.8,385.3 A6.25,6.25 0 0 1 296.8,397.8 L241.8,397.8 Z" fill="#b6b6b6" stroke="#4a4a4a" stroke-width="0.7" />
<path d="M260,387.4 L297,387.4 A4.2,4.2 0 0 1 297,395.8 L260,395.8 A4.2,4.2 0 0 1 260,387.4 Z" fill="#bdbdbd" stroke="#666" stroke-width="0.6" />
<line x1="262" y1="391.6" x2="296" y2="391.6" stroke="#555" stroke-width="0.4" stroke-dasharray="5 1.2 1 1.2"/>
<rect x="242" y="386.5" width="3.6" height="10.2" rx="0" fill="#8a8a8a" stroke="none" stroke-width="0.6" />
<rect x="292.2" y="397.8" width="8.4" height="4.4" rx="0" fill="#a6a6a6" stroke="#4a4a4a" stroke-width="0.6" />
<rect x="291.2" y="402" width="10.4" height="2" rx="0" fill="#909090" stroke="#4a4a4a" stroke-width="0.5" />
<circle cx="296.7" cy="391.6" r="1.2" fill="#444" stroke="none" stroke-width="0.75" />
<line x1="210.85" y1="303" x2="210.85" y2="496" stroke="#333" stroke-width="0.55" />
<line x1="190.4" y1="303" x2="190.4" y2="653" stroke="#3a3a3a" stroke-width="0.6" />
<path d="M184,509 L184,502 L189,502 L189,496.5 L194,496.5 L198,490" fill="#a6a6a6" stroke="#4a4a4a" stroke-width="0.6" />
<rect x="186" y="510.5" width="6.5" height="5" rx="0" fill="#9c9c9c" stroke="#4a4a4a" stroke-width="0.5" />
<path d="M204.4,404.6 C202.4,412 203.6,426 207,434.6 M217,406.6 C219.4,414 218,427 214.4,434.6" fill="none" stroke="#5c5c5c" stroke-width="1.1" />
<path d="M207.4,407 C206.4,414 207,424 209,431 M214.2,408 C215.2,415 214.6,424 212.8,431" fill="none" stroke="#6c6c6c" stroke-width="0.5" />
<path d="M208.4,443.8 L204.72,444.99 L204.72,442.61 Z" fill="#333"/>
<path d="M213.4,443.8 L217.08,442.61 L217.08,444.99 Z" fill="#333"/>
<path d="M209.6,472.6 L212.59,471.52 L212.59,473.68 Z" fill="#333"/>
<path d="M212,472.6 L209.01,473.68 L209.01,471.52 Z" fill="#333"/>
<circle cx="203.2" cy="498.6" r="0.9" fill="#444" stroke="none" stroke-width="0.75" />
<circle cx="218.6" cy="499.4" r="0.9" fill="#444" stroke="none" stroke-width="0.75" />
<circle cx="209" cy="513" r="0.8" fill="#444" stroke="none" stroke-width="0.75" />
<circle cx="214.6" cy="509" r="0.8" fill="#444" stroke="none" stroke-width="0.75" />
<path d="M198.4,402.6 Q214,398.6 226.6,410.6" fill="none" stroke="#1c1c1c" stroke-width="2.7" />
<path d="M229,413.6 L222.08,410.4 L227.05,406.23 Z" fill="#1c1c1c"/>
<text x="226" y="428.2" font-size="9.4" text-anchor="middle" fill="#222" stroke="#222" stroke-width="0.22" font-family='"Liberation Sans", sans-serif' >U</text>
<path d="M198.6,483.9 Q211.2,478.6 224,484.6" fill="none" stroke="#1c1c1c" stroke-width="2.6" />
<path d="M195,485.8 L199.41,480.3 L202.05,485.95 Z" fill="#1c1c1c"/>
<path d="M227.6,486.8 L220.55,486.59 L223.48,481.08 Z" fill="#1c1c1c"/>
<text x="196.8" y="477" font-size="9.4" text-anchor="middle" fill="#222" stroke="#222" stroke-width="0.22" font-family='"Liberation Sans", sans-serif' >L</text>
<path d="M225.8,521.6 C234,518.6 241.6,523 241,528.6 C240.4,534.4 230,537.2 220.8,535.6" fill="none" stroke="#1c1c1c" stroke-width="2.5" />
<path d="M222,519.2 L229.02,519.91 L225.71,525.2 Z" fill="#1c1c1c"/>
<path d="M215.4,535.4 L222.3,532.16 L222.3,538.64 Z" fill="#1c1c1c"/>
<path d="M226.5,521.5 C231.5,523.5 234,526.8 232.6,529.6" fill="none" stroke="#1c1c1c" stroke-width="1.8" />
<text x="218" y="550.4" font-size="9.4" text-anchor="middle" fill="#222" stroke="#222" stroke-width="0.22" font-family='"Liberation Sans", sans-serif' >S</text>
<path d="M244,378.4 C247.6,375.4 250.4,381 250.4,390 C250.4,399.4 247.8,405.4 244.4,402.8" fill="none" stroke="#1c1c1c" stroke-width="2.0" />
<path d="M242.4,380.8 L244.83,375.47 L248.07,379.33 Z" fill="#1c1c1c"/>
<path d="M242.6,400.2 L248.38,401.17 L245.49,405.3 Z" fill="#1c1c1c"/>
<text x="256.4" y="379.8" font-size="9.4" text-anchor="middle" fill="#222" stroke="#222" stroke-width="0.22" font-family='"Liberation Sans", sans-serif' >R</text>
<path d="M308.2,383.4 Q313.4,392 308.4,400.6" fill="none" stroke="#1c1c1c" stroke-width="2.5" />
<path d="M306.8,380.4 L311.62,384.09 L307.17,386.46 Z" fill="#1c1c1c"/>
<path d="M306.8,403.4 L307.17,397.34 L311.62,399.71 Z" fill="#1c1c1c"/>
<text x="318" y="388.4" font-size="9.4" text-anchor="middle" fill="#222" stroke="#222" stroke-width="0.22" font-family='"Liberation Sans", sans-serif' >B</text>
<path d="M301.4,410.2 C297,408.4 289.4,408.6 289,412.6 C288.8,416.6 297,417.2 302,415.4" fill="none" stroke="#1c1c1c" stroke-width="2.7" />
<path d="M304.2,411.8 L298.42,410.83 L301.31,406.7 Z" fill="#1c1c1c"/>
<path d="M304.8,414.2 L301.07,418.72 L298.94,414.15 Z" fill="#1c1c1c"/>
<text x="282.4" y="416" font-size="9.4" text-anchor="middle" fill="#222" stroke="#222" stroke-width="0.22" font-family='"Liberation Sans", sans-serif' >T</text>
<path d="M297.8,421.6 L301.9,427.6 L300,427.6 L300,434.1 L295.6,434.1 L295.6,427.6 L293.7,427.6 Z" fill="#62b945" stroke="none" stroke-width="0" />
<text x="288.3" y="433.4" font-size="8.8" text-anchor="middle" fill="#62b945" stroke="#62b945" stroke-width="0.22" font-family='"Liberation Sans", sans-serif' >A</text>
<path d="M149.6,546.3 L143.6,550.4 L143.6,548.5 L136.6,548.5 L136.6,544.1 L143.6,544.1 L143.6,542.2 Z" fill="#62b945" stroke="none" stroke-width="0" />
<text x="141.3" y="540" font-size="8.8" text-anchor="middle" fill="#62b945" stroke="#62b945" stroke-width="0.22" font-family='"Liberation Sans", sans-serif' >B</text>
<path d="M179.6,566.2 L183.7,572.2 L181.8,572.2 L181.8,578.7 L177.4,578.7 L177.4,572.2 L175.5,572.2 Z" fill="#62b945" stroke="none" stroke-width="0" />
<text x="171.4" y="579" font-size="9.2" text-anchor="middle" fill="#62b945" stroke="#62b945" stroke-width="0.22" font-family='"Liberation Sans", sans-serif' >C</text>
<line x1="445.7" y1="367.5" x2="508.6" y2="367.5" stroke="#3a3a3a" stroke-width="0.75" />
<path d="M473.2,367.5 L467.45,369 L467.45,366 Z" fill="#222"/>
<path d="M492.7,367.5 L498.45,366 L498.45,369 Z" fill="#222"/>
<line x1="492.7" y1="364.5" x2="492.7" y2="404.5" stroke="#3a3a3a" stroke-width="0.75" />
<text x="458.2" y="365.6" font-size="10" text-anchor="middle" fill="#222" stroke="#222" stroke-width="0.22" font-family='"Liberation Sans", sans-serif' >141</text>
<line x1="423.5" y1="467.1" x2="523.8" y2="467.1" stroke="#3a3a3a" stroke-width="0.75" />
<path d="M446.8,467.1 L441.05,468.6 L441.05,465.6 Z" fill="#222"/>
<path d="M500.6,467.1 L506.35,465.6 L506.35,468.6 Z" fill="#222"/>
<line x1="500.6" y1="464" x2="500.6" y2="501" stroke="#3a3a3a" stroke-width="0.75" />
<text x="432.6" y="465.2" font-size="10" text-anchor="middle" fill="#222" stroke="#222" stroke-width="0.22" font-family='"Liberation Sans", sans-serif' >188</text>
<text x="514.8" y="465.2" font-size="10" text-anchor="middle" fill="#222" stroke="#222" stroke-width="0.22" font-family='"Liberation Sans", sans-serif' >199</text>
<path d="M453,391.2 L448,391.2 Q441,391.4 441,399 L441.3,408 C442,417 448,423 448.3,432 L447.6,483 C447.6,492 450,496 453,500 L459,500 L458.2,432 C458,423 447.4,416 447,408 L447,402 Q447,397.8 453,397.8 Z" fill="#a6a6a6" stroke="#4a4a4a" stroke-width="0.7" />
<rect x="451.6" y="383" width="35.8" height="16" rx="5" fill="#b6b6b6" stroke="#4a4a4a" stroke-width="0.7" />
<line x1="459.5" y1="383.4" x2="459.5" y2="398.6" stroke="#4a4a4a" stroke-width="0.5" />
<circle cx="473.2" cy="391" r="8.9" fill="#8a8a8a" stroke="#444" stroke-width="0.9" />
<rect x="469.6" y="386" width="7.2" height="11.5" rx="0" fill="#c4c4c4" stroke="#555" stroke-width="0.5" />
<rect x="466" y="399" width="14" height="5" rx="0" fill="#a6a6a6" stroke="#4a4a4a" stroke-width="0.6" />
<rect x="456.4" y="401.8" width="25.6" height="21.4" rx="0" fill="#a6a6a6" stroke="#4a4a4a" stroke-width="0.7" />
<rect x="456.4" y="404" width="7.5" height="21.5" rx="0" fill="#9a9a9a" stroke="#4a4a4a" stroke-width="0.6" />
<path d="M459.8,406 C462.8,410 462.8,418 459.8,422" fill="none" stroke="#5a5a5a" stroke-width="0.7" />
<rect x="471.5" y="408" width="11" height="14" rx="0" fill="#8c8c8c" stroke="#4a4a4a" stroke-width="0.5" />
<rect x="482" y="405.4" width="10.6" height="19.4" rx="0" fill="#9c9c9c" stroke="#4a4a4a" stroke-width="0.6" />
<rect x="484.5" y="408" width="4" height="14" rx="0" fill="#6c6c6c" stroke="none" stroke-width="0.6" />
<rect x="478.8" y="420.6" width="12.6" height="4.2" rx="0" fill="#777" stroke="#4a4a4a" stroke-width="0.4" />
<rect x="459" y="423.2" width="6" height="6.4" rx="0" fill="#a6a6a6" stroke="#4a4a4a" stroke-width="0.5" />
<path d="M447.6,474 L464.5,474 L464.5,478.5 L472,480 C476,492 482,505 492.5,510 L496.4,511.5 L496.4,529 L448.4,529 Z" fill="#b6b6b6" stroke="#4a4a4a" stroke-width="0.7" />
<rect x="458.8" y="474.2" width="7.6" height="10" rx="0" fill="#c0c0c0" stroke="#4a4a4a" stroke-width="0.5" />
<rect x="460" y="484" width="7.5" height="22" rx="0" fill="#c4c4c4" stroke="#4a4a4a" stroke-width="0.5" />
<path d="M456.5,488 C459.5,496 459.5,506 456.5,512" fill="none" stroke="#5a5a5a" stroke-width="0.8" />
<path d="M452,519 L460,519 L460,514 M464,509 L464,524" fill="none" stroke="#5a5a5a" stroke-width="0.6" />
<rect x="471.4" y="523" width="5" height="5.5" rx="1.2" fill="#c4c4c4" stroke="#4a4a4a" stroke-width="0.5" />
<line x1="470" y1="518.5" x2="495" y2="518.5" stroke="#5a5a5a" stroke-width="0.5" />
<rect x="490" y="508" width="4" height="5" rx="0" fill="#b6b6b6" stroke="#4a4a4a" stroke-width="0.4" />
<rect x="477.6" y="487" width="11.5" height="15.5" rx="0" fill="#8e8e8e" stroke="#4a4a4a" stroke-width="0.5" />
<rect x="489" y="486.6" width="7.4" height="16" rx="0" fill="#9c9c9c" stroke="#4a4a4a" stroke-width="0.5" />
<rect x="491" y="488" width="3" height="13" rx="0" fill="#666" stroke="none" stroke-width="0.6" />
<rect x="496.4" y="488.6" width="4.2" height="12.4" rx="0" fill="#bdbdbd" stroke="#4a4a4a" stroke-width="0.5" />
<rect x="478.6" y="502.4" width="18" height="2.4" rx="0" fill="#666" stroke="none" stroke-width="0.6" />
<rect x="448.4" y="528.2" width="48.6" height="5.2" rx="0" fill="#a6a6a6" stroke="#4a4a4a" stroke-width="0.6" />
<rect x="452.8" y="533.2" width="40.8" height="22.4" rx="0" fill="#b6b6b6" stroke="#4a4a4a" stroke-width="0.7" />
<line x1="452.8" y1="551.8" x2="493.6" y2="551.8" stroke="#4a4a4a" stroke-width="0.5" />
<line x1="456" y1="533.4" x2="456" y2="555.4" stroke="#777" stroke-width="0.5" />
<line x1="490.4" y1="533.4" x2="490.4" y2="555.4" stroke="#777" stroke-width="0.5" />
<rect x="470.6" y="551.8" width="5.2" height="3.6" rx="0" fill="#a6a6a6" stroke="#4a4a4a" stroke-width="0.4" />
<line x1="473.2" y1="369" x2="473.2" y2="561" stroke="#333" stroke-width="0.6" stroke-dasharray="9 2.5 2 2.5"/>
<circle cx="473.2" cy="467.1" r="1.1" fill="#222" stroke="none" stroke-width="0.75" />
<path d="M603.5,56.6 L689.6,56.6 L689.6,69 L686.4,72 L607,72 L603.5,69 Z" fill="#bababa" stroke="#777" stroke-width="0.6" />
<rect x="621.5" y="72" width="51.1" height="6.8" rx="0" fill="#bebebe" stroke="#777" stroke-width="0.6" />
<path d="M626.8,78.8 L626.8,74.5 Q627.6,65 640,65 L654,65 Q666.4,65 667.2,74.5 L667.2,78.8 L660.9,78.8 L660.9,74.4 Q660.4,70.6 655,70.6 L639,70.6 Q633.8,70.6 633.2,74.4 L633.2,78.8 Z" fill="#8f8f8f" stroke="#555" stroke-width="0.6" />
<path d="M633.5,78.8 L633.5,74.6 Q634,71 639,71 L655,71 Q660.2,71 660.6,74.6 L660.6,78.8 Z" fill="#ececec" stroke="none" stroke-width="0" />
<line x1="647" y1="54.5" x2="647" y2="81" stroke="#444" stroke-width="0.5" />
<line x1="621.5" y1="78.8" x2="621.5" y2="113.6" stroke="#3a3a3a" stroke-width="0.75" />
<line x1="672.6" y1="78.8" x2="672.6" y2="113.6" stroke="#3a3a3a" stroke-width="0.75" />
<line x1="633.2" y1="73" x2="633.2" y2="97.6" stroke="#3a3a3a" stroke-width="0.75" />
<line x1="660.9" y1="73" x2="660.9" y2="97.6" stroke="#3a3a3a" stroke-width="0.75" />
<line x1="585.3" y1="94.3" x2="668.5" y2="94.3" stroke="#3a3a3a" stroke-width="0.75" />
<path d="M633.2,94.3 L627.45,95.8 L627.45,92.8 Z" fill="#222"/>
<path d="M660.9,94.3 L666.65,92.8 L666.65,95.8 Z" fill="#222"/>
<text x="587.3" y="92.8" font-size="10.5" text-anchor="start" fill="#222" stroke="#222" stroke-width="0.22" font-family='"Liberation Sans", sans-serif' ><tspan font-style="italic">ϕ</tspan>25H7</text>
<line x1="621.5" y1="110.2" x2="672.6" y2="110.2" stroke="#3a3a3a" stroke-width="0.75" />
<path d="M621.5,110.2 L627.25,108.7 L627.25,111.7 Z" fill="#222"/>
<path d="M672.6,110.2 L666.85,111.7 L666.85,108.7 Z" fill="#222"/>
<text x="645" y="108.8" font-size="10.5" text-anchor="middle" fill="#222" stroke="#222" stroke-width="0.22" font-family='"Liberation Sans", sans-serif' ><tspan font-style="italic">ϕ</tspan>50h6</text>
<line x1="664.5" y1="45.2" x2="664.5" y2="85" stroke="#3a3a3a" stroke-width="0.75" />
<path d="M664.5,71.6 L663,65.85 L666,65.85 Z" fill="#222"/>
<path d="M664.5,78.8 L666,84.55 L663,84.55 Z" fill="#222"/>
<text x="664.8" y="49.4" font-size="10" text-anchor="middle" fill="#222" stroke="#222" stroke-width="0.22" font-family='"Liberation Sans", sans-serif' transform="rotate(-90 664.8 49.4)" >6</text>
<line x1="673.6" y1="72" x2="701.4" y2="72" stroke="#3a3a3a" stroke-width="0.75" />
<line x1="673.6" y1="78.8" x2="701.4" y2="78.8" stroke="#3a3a3a" stroke-width="0.75" />
<line x1="698.7" y1="61.2" x2="698.7" y2="92.2" stroke="#3a3a3a" stroke-width="0.75" />
<path d="M698.7,72 L697.2,66.25 L700.2,66.25 Z" fill="#222"/>
<path d="M698.7,78.8 L700.2,84.55 L697.2,84.55 Z" fill="#222"/>
<text x="697.2" y="88.6" font-size="10" text-anchor="middle" fill="#222" stroke="#222" stroke-width="0.22" font-family='"Liberation Sans", sans-serif' transform="rotate(-90 697.2 88.6)" >6</text>
<circle cx="646.3" cy="170.4" r="30.8" fill="#a3a3a3" stroke="#666" stroke-width="0.7" />
<circle cx="646.3" cy="170.4" r="25.3" fill="#bebebe" stroke="#777" stroke-width="0.6" />
<circle cx="646.3" cy="170.4" r="20.4" fill="none" stroke="#333" stroke-width="0.6" stroke-dasharray="7 1.5 1.5 1.5"/>
<circle cx="646.3" cy="170.4" r="12.4" fill="#b0b0b0" stroke="#555" stroke-width="0.7" />
<circle cx="631.9" cy="156" r="2.9" fill="#c8c8c8" stroke="#333" stroke-width="0.7" />
<circle cx="631.9" cy="156" r="1.7" fill="none" stroke="#444" stroke-width="0.5" />
<circle cx="631.9" cy="184.8" r="2.9" fill="#c8c8c8" stroke="#333" stroke-width="0.7" />
<circle cx="631.9" cy="184.8" r="1.7" fill="none" stroke="#444" stroke-width="0.5" />
<circle cx="660.7" cy="156" r="2.9" fill="#c8c8c8" stroke="#333" stroke-width="0.7" />
<circle cx="660.7" cy="156" r="1.7" fill="none" stroke="#444" stroke-width="0.5" />
<circle cx="660.7" cy="184.8" r="2.9" fill="#c8c8c8" stroke="#333" stroke-width="0.7" />
<circle cx="660.7" cy="184.8" r="1.7" fill="none" stroke="#444" stroke-width="0.5" />
<circle cx="625.9" cy="170.4" r="2.6" fill="#d4d4d4" stroke="#333" stroke-width="0.6" />
<line x1="614.6" y1="170.4" x2="678.6" y2="170.4" stroke="#333" stroke-width="0.5" stroke-dasharray="8 1.5 1.5 1.5"/>
<line x1="646.3" y1="120.6" x2="646.3" y2="203.6" stroke="#333" stroke-width="0.5" stroke-dasharray="8 1.5 1.5 1.5"/>
<path d="M646.3,126.4 A44,44 0 0 1 677.41,139.29" fill="none" stroke="#3a3a3a" stroke-width="0.75" />
<path d="M646.7,126.4 L653.02,124.9 L653.02,127.9 Z" fill="#222"/>
<path d="M677.41,139.29 L672.13,135.5 L674.4,133.53 Z" fill="#222"/>
<line x1="675.2" y1="140.2" x2="680" y2="134.8" stroke="#3a3a3a" stroke-width="0.75" />
<text x="666.6" y="128.6" font-size="10" text-anchor="middle" fill="#222" stroke="#222" stroke-width="0.22" font-family='"Liberation Sans", sans-serif' font-style="italic" transform="rotate(20 666.6 128.6)" >45<tspan font-size="7" dy="-3">°</tspan></text>
<line x1="691.2" y1="136.6" x2="664.2" y2="154.2" stroke="#3a3a3a" stroke-width="0.75" />
<path d="M664,154.4 L668.49,149.7 L670.12,152.21 Z" fill="#222"/>
<text x="691.8" y="138.4" font-size="10.5" text-anchor="start" fill="#222" stroke="#222" stroke-width="0.22" font-family='"Liberation Sans", sans-serif' >4-M6×P1.0</text>
<text x="701.2" y="148.8" font-size="10" text-anchor="start" fill="#222" stroke="#222" stroke-width="0.22" font-family='"Liberation Sans", sans-serif' ><tspan font-family='"Liberation Sans","Noto Serif CJK SC",serif' font-size="8">深</tspan>: 9</text>
<line x1="630.2" y1="162.6" x2="715.8" y2="202.2" stroke="#3a3a3a" stroke-width="0.75" />
<path d="M629.6,162.3 L635.97,163.61 L634.7,166.33 Z" fill="#222"/>
<path d="M663.4,178 L657.03,176.69 L658.3,173.97 Z" fill="#222"/>
<text x="697.4" y="190.2" font-size="10" text-anchor="middle" fill="#222" stroke="#222" stroke-width="0.22" font-family='"Liberation Sans", sans-serif' font-style="italic" transform="rotate(24.5 697.4 190.2)" >P.C.D.40</text>
<line x1="624.7" y1="172.4" x2="600.6" y2="210.6" stroke="#3a3a3a" stroke-width="0.75" />
<path d="M624.9,172.2 L623.13,177.87 L620.58,176.28 Z" fill="#222"/>
<text x="586.6" y="221.8" font-size="10.5" text-anchor="start" fill="#222" stroke="#222" stroke-width="0.22" font-family='"Liberation Sans", sans-serif' ><tspan font-style="italic">ϕ</tspan>6H7</text>
<text x="627" y="221.8" font-size="10" text-anchor="start" fill="#222" stroke="#222" stroke-width="0.22" font-family='"Liberation Sans", sans-serif' ><tspan font-family='"Liberation Sans","Noto Serif CJK SC",serif' font-size="8">深</tspan>: 6</text>
<text x="630.6" y="248.6" font-size="13" text-anchor="start" fill="#62b945" stroke="#62b945" stroke-width="0.22" font-family='"Liberation Sans", sans-serif' ><tspan font-family='"Liberation Sans","Noto Serif CJK SC",serif' font-size="13" font-weight="300" fill="#86c873" stroke="none">视图</tspan> <tspan font-size="15">A</tspan></text>
<text x="632.8" y="295.2" font-size="10" text-anchor="start" fill="#222" stroke="#222" stroke-width="0.22" font-family='"Liberation Sans", sans-serif' ><tspan font-family='"Liberation Sans","Noto Serif CJK SC",serif' font-size="9" font-weight="600">空气入口</tspan> <tspan font-weight="bold">A</tspan></text>
<text x="633" y="305.8" font-size="10.2" text-anchor="start" fill="#222" stroke="#222" stroke-width="0.22" font-family='"Liberation Sans", sans-serif' >PT3/8  <tspan font-family='"Liberation Sans","Noto Serif CJK SC",serif' font-size="8.6" font-weight="600">螺孔</tspan></text>
<text x="633" y="316.8" font-size="10" text-anchor="start" fill="#222" stroke="#222" stroke-width="0.22" font-family='"Liberation Sans", sans-serif' ><tspan font-family='"Liberation Sans","Noto Serif CJK SC",serif' font-size="8.8" font-weight="600">付  套塞</tspan></text>
<text x="679.4" y="329.6" font-size="10" text-anchor="start" fill="#222" stroke="#222" stroke-width="0.22" font-family='"Liberation Sans", sans-serif' ><tspan font-family='"Liberation Sans","Noto Serif CJK SC",serif' font-size="9" font-weight="600">空气入口</tspan><tspan font-weight="bold">B</tspan></text>
<text x="679.4" y="340.2" font-size="10.2" text-anchor="start" fill="#222" stroke="#222" stroke-width="0.22" font-family='"Liberation Sans", sans-serif' >PT3/8  <tspan font-family='"Liberation Sans","Noto Serif CJK SC",serif' font-size="8.6" font-weight="600">螺孔</tspan></text>
<text x="679.2" y="351.2" font-size="10" text-anchor="start" fill="#222" stroke="#222" stroke-width="0.22" font-family='"Liberation Sans", sans-serif' ><tspan font-family='"Liberation Sans","Noto Serif CJK SC",serif' font-size="8.8" font-weight="600">付  套塞</tspan></text>
<text x="678.2" y="373.4" font-size="10" text-anchor="start" fill="#222" stroke="#222" stroke-width="0.22" font-family='"Liberation Sans", sans-serif' ><tspan font-family='"Liberation Sans","Noto Serif CJK SC",serif' font-size="8.9" font-weight="600">焊接电源用端子台</tspan></text>
<text x="544" y="378.4" font-size="10" text-anchor="start" fill="#222" stroke="#222" stroke-width="0.22" font-family='"Liberation Sans", sans-serif' ><tspan font-family='"Liberation Sans","Noto Serif CJK SC",serif' font-size="9.0" font-weight="600">装备电缆接头</tspan></text>
<text x="544" y="390.4" font-size="10.0" text-anchor="start" fill="#222" stroke="#222" stroke-width="0.22" font-family='"Liberation Sans", sans-serif' >JL05-2A20-29PC( <tspan font-family='"Liberation Sans","Noto Serif CJK SC",serif' font-size="8.0" font-weight="600">付  插套</tspan> )</text>
<text x="544" y="402.2" font-size="10.0" text-anchor="start" fill="#222" stroke="#222" stroke-width="0.22" font-family='"Liberation Sans", sans-serif' ><tspan font-family='"Liberation Sans","Noto Serif CJK SC",serif' font-size="8.6" font-weight="600">相对方接头</tspan> JL05-6A20-29S</text>
<text x="544" y="412.2" font-size="10" text-anchor="start" fill="#222" stroke="#222" stroke-width="0.22" font-family='"Liberation Sans", sans-serif' ><tspan font-family='"Liberation Sans","Noto Serif CJK SC",serif' font-size="8.6" font-weight="600">使用者自备</tspan></text>
<text x="631.6" y="437.4" font-size="13" text-anchor="start" fill="#62b945" stroke="#62b945" stroke-width="0.22" font-family='"Liberation Sans", sans-serif' ><tspan font-family='"Liberation Sans","Noto Serif CJK SC",serif' font-size="13" font-weight="300" fill="#86c873" stroke="none">视图</tspan><tspan font-size="15" dx="1.5">B</tspan></text>
<rect x="605.6" y="329" width="59.8" height="27.8" rx="0" fill="#b4b4b4" stroke="#555" stroke-width="0.8" />
<rect x="607" y="330.4" width="57" height="25" rx="0" fill="none" stroke="#777" stroke-width="0.5" />
<rect x="609" y="335" width="7.2" height="17.4" rx="3.2" fill="#a0a0a0" stroke="#3c3c3c" stroke-width="1.0" />
<rect x="610.8" y="337.4" width="3.6" height="12.6" rx="1.6" fill="#c4c4c4" stroke="#3c3c3c" stroke-width="0.6" />
<line x1="607.4" y1="341" x2="609" y2="341" stroke="#3c3c3c" stroke-width="0.9" />
<line x1="616.2" y1="347" x2="617.8" y2="347" stroke="#3c3c3c" stroke-width="0.9" />
<rect x="621" y="335" width="7.2" height="17.4" rx="3.2" fill="#a0a0a0" stroke="#3c3c3c" stroke-width="1.0" />
<rect x="622.8" y="337.4" width="3.6" height="12.6" rx="1.6" fill="#c4c4c4" stroke="#3c3c3c" stroke-width="0.6" />
<line x1="619.4" y1="341" x2="621" y2="341" stroke="#3c3c3c" stroke-width="0.9" />
<line x1="628.2" y1="347" x2="629.8" y2="347" stroke="#3c3c3c" stroke-width="0.9" />
<circle cx="634.6" cy="336.6" r="2.7" fill="#8a8a8a" stroke="#2e2e2e" stroke-width="1.0" />
<circle cx="634.6" cy="336.6" r="1.1" fill="#5a5a5a" stroke="none" stroke-width="0.75" />
<circle cx="636" cy="346.2" r="3" fill="#c0c0c0" stroke="#444" stroke-width="0.6" />
<line x1="636" y1="341" x2="636" y2="356" stroke="#444" stroke-width="0.5" stroke-dasharray="3 1 1 1"/>
<line x1="631" y1="346.2" x2="641" y2="346.2" stroke="#444" stroke-width="0.5" />
<circle cx="640.5" cy="334.2" r="0.8" fill="#333" stroke="none" stroke-width="0.75" />
<circle cx="640.5" cy="341.2" r="0.8" fill="#333" stroke="none" stroke-width="0.75" />
<circle cx="652.6" cy="334.2" r="0.8" fill="#333" stroke="none" stroke-width="0.75" />
<circle cx="652.6" cy="341.2" r="0.8" fill="#333" stroke="none" stroke-width="0.75" />
<rect x="642.2" y="332.4" width="9" height="9.6" rx="0" fill="#bcbcbc" stroke="#666" stroke-width="0.5" />
<line x1="646.7" y1="333" x2="646.7" y2="341" stroke="#555" stroke-width="0.5" />
<rect x="642.6" y="344.4" width="13.6" height="7.6" rx="0" fill="#a8a8a8" stroke="#3c3c3c" stroke-width="0.9" />
<line x1="649.4" y1="344.4" x2="649.4" y2="352" stroke="#3c3c3c" stroke-width="0.7" />
<circle cx="645.4" cy="349" r="0.9" fill="#333" stroke="none" stroke-width="0.75" />
<circle cx="653.2" cy="349" r="0.9" fill="#333" stroke="none" stroke-width="0.75" />
<rect x="643" y="353" width="12.8" height="2.4" rx="0" fill="#8a8a8a" stroke="#555" stroke-width="0.4" />
<rect x="655.6" y="331.2" width="8.4" height="22" rx="0" fill="#bebebe" stroke="#666" stroke-width="0.5" />
<circle cx="660" cy="334.6" r="1.9" fill="#6a6a6a" stroke="#2e2e2e" stroke-width="0.8" />
<circle cx="659.8" cy="340.8" r="2.8" fill="#7a7a7a" stroke="#2a2a2a" stroke-width="1.0" />
<circle cx="607.6" cy="331" r="0.7" fill="#555" stroke="none" stroke-width="0.75" />
<circle cx="663.4" cy="331" r="0.7" fill="#555" stroke="none" stroke-width="0.75" />
<circle cx="607.6" cy="354.8" r="0.7" fill="#555" stroke="none" stroke-width="0.75" />
<circle cx="663.4" cy="354.8" r="0.7" fill="#555" stroke="none" stroke-width="0.75" />
<line x1="646.2" y1="319.4" x2="635.6" y2="333.4" stroke="#3a3a3a" stroke-width="0.75" />
<path d="M635.2,334 L637.46,328.51 L639.86,330.31 Z" fill="#222"/>
<line x1="677.8" y1="335.6" x2="667.6" y2="339.8" stroke="#3a3a3a" stroke-width="0.75" />
<path d="M666.6,340.2 L671.37,336.66 L672.49,339.44 Z" fill="#222"/>
<line x1="676.2" y1="367.8" x2="658.6" y2="357.2" stroke="#3a3a3a" stroke-width="0.75" />
<path d="M657.6,356.6 L663.3,358.28 L661.76,360.85 Z" fill="#222"/>
<line x1="609.4" y1="370.8" x2="628" y2="350.8" stroke="#3a3a3a" stroke-width="0.75" />
<path d="M628.6,350.2 L625.78,355.43 L623.58,353.38 Z" fill="#222"/>
<rect x="600.4" y="537.8" width="12.9" height="39.4" rx="0" fill="#a9a9a9" stroke="#666" stroke-width="0.5" />
<rect x="613.3" y="536.2" width="43.6" height="42" rx="0" fill="#bcbcbc" stroke="#555" stroke-width="0.8" />
<path d="M613.3,550.84 L617.62,550.84 A18.6,18.6 0 0 1 628.74,539.72 L628.74,536.2" fill="none" stroke="#5a5a5a" stroke-width="0.7" />
<path d="M613.3,563.56 L617.62,563.56 A18.6,18.6 0 0 0 628.74,574.68 L628.74,578.2" fill="none" stroke="#5a5a5a" stroke-width="0.7" />
<path d="M656.9,550.84 L652.58,550.84 A18.6,18.6 0 0 0 641.46,539.72 L641.46,536.2" fill="none" stroke="#5a5a5a" stroke-width="0.7" />
<path d="M656.9,563.56 L652.58,563.56 A18.6,18.6 0 0 1 641.46,574.68 L641.46,578.2" fill="none" stroke="#5a5a5a" stroke-width="0.7" />
<circle cx="616.5" cy="539.1" r="1.3" fill="#d8d8d8" stroke="#333" stroke-width="0.6" />
<circle cx="616.5" cy="539.1" r="0.45" fill="#333" stroke="none" stroke-width="0.75" />
<circle cx="653.6" cy="539.1" r="1.3" fill="#d8d8d8" stroke="#333" stroke-width="0.6" />
<circle cx="653.6" cy="539.1" r="0.45" fill="#333" stroke="none" stroke-width="0.75" />
<circle cx="616.5" cy="576.2" r="1.3" fill="#d8d8d8" stroke="#333" stroke-width="0.6" />
<circle cx="616.5" cy="576.2" r="0.45" fill="#333" stroke="none" stroke-width="0.75" />
<circle cx="653.6" cy="576.2" r="1.3" fill="#d8d8d8" stroke="#333" stroke-width="0.6" />
<circle cx="653.6" cy="576.2" r="0.45" fill="#333" stroke="none" stroke-width="0.75" />
<circle cx="649.6" cy="576.2" r="1.3" fill="#d8d8d8" stroke="#333" stroke-width="0.6" />
<circle cx="649.6" cy="576.2" r="0.45" fill="#333" stroke="none" stroke-width="0.75" />
<circle cx="635.1" cy="540.8" r="1.8" fill="#d0d0d0" stroke="#444" stroke-width="0.6" />
<circle cx="635.1" cy="573.6" r="1.8" fill="#d0d0d0" stroke="#444" stroke-width="0.6" />
<circle cx="651.3" cy="557.2" r="1.8" fill="#d0d0d0" stroke="#444" stroke-width="0.6" />
<circle cx="620.6" cy="537.8" r="0.6" fill="#333" stroke="none" stroke-width="0.75" />
<circle cx="653.6" cy="543.4" r="0.7" fill="#333" stroke="none" stroke-width="0.75" />
<circle cx="620.6" cy="576.6" r="0.6" fill="#333" stroke="none" stroke-width="0.75" />
<line x1="599" y1="557.2" x2="662" y2="557.2" stroke="#333" stroke-width="0.6" stroke-dasharray="8 1.6 1.6 1.6"/>
<line x1="662" y1="557.2" x2="737.6" y2="557.2" stroke="#3a3a3a" stroke-width="0.75" />
<line x1="635.1" y1="505.5" x2="635.1" y2="647.6" stroke="#3a3a3a" stroke-width="0.75" />
<line x1="613.3" y1="478" x2="613.3" y2="536.2" stroke="#3a3a3a" stroke-width="0.75" />
<line x1="656.9" y1="478" x2="656.9" y2="536.2" stroke="#3a3a3a" stroke-width="0.75" />
<line x1="613.3" y1="481.8" x2="656.9" y2="481.8" stroke="#3a3a3a" stroke-width="0.75" />
<path d="M613.3,481.8 L619.05,480.3 L619.05,483.3 Z" fill="#222"/>
<path d="M656.9,481.8 L651.15,483.3 L651.15,480.3 Z" fill="#222"/>
<text x="637.2" y="479.8" font-size="10" text-anchor="middle" fill="#222" stroke="#222" stroke-width="0.22" font-family='"Liberation Sans", sans-serif' >300</text>
<line x1="616.21" y1="495" x2="616.21" y2="539.2" stroke="#3a3a3a" stroke-width="0.75" />
<line x1="653.99" y1="495" x2="653.99" y2="539.2" stroke="#3a3a3a" stroke-width="0.75" />
<line x1="616.21" y1="498.5" x2="653.99" y2="498.5" stroke="#3a3a3a" stroke-width="0.75" />
<path d="M616.21,498.5 L621.96,497 L621.96,500 Z" fill="#222"/>
<path d="M653.99,498.5 L648.24,500 L648.24,497 Z" fill="#222"/>
<text x="637.2" y="496.2" font-size="10" text-anchor="middle" fill="#222" stroke="#222" stroke-width="0.22" font-family='"Liberation Sans", sans-serif' >260</text>
<line x1="572" y1="508.2" x2="600.4" y2="508.2" stroke="#3a3a3a" stroke-width="0.75" />
<path d="M600.4,508.2 L594.65,509.7 L594.65,506.7 Z" fill="#222"/>
<line x1="600.4" y1="497.8" x2="600.4" y2="536.2" stroke="#3a3a3a" stroke-width="0.75" />
<text x="584.6" y="506.4" font-size="10" text-anchor="middle" fill="#222" stroke="#222" stroke-width="0.22" font-family='"Liberation Sans", sans-serif' >240</text>
<line x1="653.99" y1="508.2" x2="697.4" y2="508.2" stroke="#3a3a3a" stroke-width="0.75" />
<path d="M653.99,508.2 L659.74,506.7 L659.74,509.7 Z" fill="#222"/>
<text x="661.8" y="506.4" font-size="10" text-anchor="start" fill="#222" stroke="#222" stroke-width="0.22" font-family='"Liberation Sans", sans-serif' >132±0.1</text>
<line x1="630.4" y1="522.4" x2="630.4" y2="541" stroke="#3a3a3a" stroke-width="0.75" />
<line x1="639.8" y1="522.4" x2="639.8" y2="541" stroke="#3a3a3a" stroke-width="0.75" />
<line x1="620" y1="526.4" x2="649.2" y2="526.4" stroke="#3a3a3a" stroke-width="0.75" />
<path d="M630.4,526.4 L625.22,527.9 L625.22,524.9 Z" fill="#222"/>
<path d="M639.8,526.4 L644.97,524.9 L644.97,527.9 Z" fill="#222"/>
<text x="635.4" y="522.2" font-size="10" text-anchor="middle" fill="#222" stroke="#222" stroke-width="0.22" font-family='"Liberation Sans", sans-serif' >60</text>
<text x="559.2" y="527.8" font-size="10" text-anchor="start" fill="#222" stroke="#222" stroke-width="0.22" font-family='"Liberation Sans", sans-serif' >4-<tspan font-style="italic">ϕ</tspan>18</text>
<line x1="586.4" y1="526.4" x2="614.4" y2="537" stroke="#3a3a3a" stroke-width="0.75" />
<path d="M615,537.3 L609.63,536.85 L610.71,534.05 Z" fill="#222"/>
<line x1="557.6" y1="536.2" x2="740.2" y2="536.2" stroke="#3a3a3a" stroke-width="0.75" />
<line x1="557.6" y1="578.2" x2="740.2" y2="578.2" stroke="#3a3a3a" stroke-width="0.75" />
<line x1="570" y1="537.8" x2="600.4" y2="537.8" stroke="#3a3a3a" stroke-width="0.5" />
<line x1="570" y1="577.2" x2="600.4" y2="577.2" stroke="#3a3a3a" stroke-width="0.5" />
<line x1="656.9" y1="543.4" x2="721" y2="543.4" stroke="#3a3a3a" stroke-width="0.75" />
<line x1="660.4" y1="552.7" x2="678" y2="552.7" stroke="#3a3a3a" stroke-width="0.75" />
<line x1="660.4" y1="561.7" x2="678" y2="561.7" stroke="#3a3a3a" stroke-width="0.75" />
<line x1="563" y1="536.2" x2="563" y2="578.2" stroke="#3a3a3a" stroke-width="0.75" />
<path d="M563,536.2 L564.5,541.95 L561.5,541.95 Z" fill="#222"/>
<path d="M563,578.2 L561.5,572.45 L564.5,572.45 Z" fill="#222"/>
<text x="560.2" y="557.8" font-size="10" text-anchor="middle" fill="#222" stroke="#222" stroke-width="0.22" font-family='"Liberation Sans", sans-serif' transform="rotate(-90 560.2 557.8)" >300</text>
<line x1="576.2" y1="536.2" x2="576.2" y2="578.2" stroke="#3a3a3a" stroke-width="0.75" />
<path d="M576.2,536.2 L577.7,541.95 L574.7,541.95 Z" fill="#222"/>
<path d="M576.2,578.2 L574.7,572.45 L577.7,572.45 Z" fill="#222"/>
<text x="573.4" y="557.8" font-size="10" text-anchor="middle" fill="#222" stroke="#222" stroke-width="0.22" font-family='"Liberation Sans", sans-serif' transform="rotate(-90 573.4 557.8)" >292</text>
<line x1="590.8" y1="536.2" x2="590.8" y2="578.2" stroke="#3a3a3a" stroke-width="0.75" />
<path d="M590.8,536.2 L592.3,541.95 L589.3,541.95 Z" fill="#222"/>
<path d="M590.8,578.2 L589.3,572.45 L592.3,572.45 Z" fill="#222"/>
<text x="588" y="557.8" font-size="10" text-anchor="middle" fill="#222" stroke="#222" stroke-width="0.22" font-family='"Liberation Sans", sans-serif' transform="rotate(-90 588 557.8)" >260</text>
<line x1="675.4" y1="541.6" x2="675.4" y2="590" stroke="#3a3a3a" stroke-width="0.75" />
<path d="M675.4,552.7 L673.9,547.53 L676.9,547.53 Z" fill="#222"/>
<path d="M675.4,561.7 L676.9,566.88 L673.9,566.88 Z" fill="#222"/>
<text x="673" y="571" font-size="10" text-anchor="middle" fill="#222" stroke="#222" stroke-width="0.22" font-family='"Liberation Sans", sans-serif' transform="rotate(-90 673 571)" >60</text>
<line x1="717.6" y1="497" x2="717.6" y2="619" stroke="#3a3a3a" stroke-width="0.75" />
<path d="M717.6,536.2 L716.1,530.45 L719.1,530.45 Z" fill="#222"/>
<path d="M717.6,543.4 L719.1,548.57 L716.1,548.57 Z" fill="#222"/>
<path d="M717.6,557.2 L719.1,562.38 L716.1,562.38 Z" fill="#222"/>
<path d="M717.6,578.2 L716.1,572.45 L719.1,572.45 Z" fill="#222"/>
<text x="716" y="515.2" font-size="10" text-anchor="middle" fill="#222" stroke="#222" stroke-width="0.22" font-family='"Liberation Sans", sans-serif' transform="rotate(-90 716 515.2)" >102±0.1</text>
<text x="716" y="600.4" font-size="10" text-anchor="middle" fill="#222" stroke="#222" stroke-width="0.22" font-family='"Liberation Sans", sans-serif' transform="rotate(-90 716 600.4)" >132±0.1</text>
<line x1="736.4" y1="522.4" x2="736.4" y2="601" stroke="#3a3a3a" stroke-width="0.75" />
<path d="M736.4,536.2 L734.9,530.45 L737.9,530.45 Z" fill="#222"/>
<path d="M736.4,557.2 L737.9,562.95 L734.9,562.95 Z" fill="#222"/>
<text x="735" y="582.4" font-size="10" text-anchor="middle" fill="#222" stroke="#222" stroke-width="0.22" font-family='"Liberation Sans", sans-serif' transform="rotate(-90 735 582.4)" >153±0.1</text>
<line x1="619.2" y1="578.2" x2="619.2" y2="644.6" stroke="#3a3a3a" stroke-width="0.75" />
<line x1="650.2" y1="578.2" x2="650.2" y2="626.6" stroke="#3a3a3a" stroke-width="0.75" />
<line x1="656.9" y1="578.2" x2="656.9" y2="644.6" stroke="#3a3a3a" stroke-width="0.75" />
<text x="632.6" y="600.4" font-size="10" text-anchor="middle" fill="#222" stroke="#222" stroke-width="0.22" font-family='"Liberation Sans", sans-serif' transform="rotate(-90 632.6 600.4)" >130±0.1</text>
<line x1="633.5" y1="546.5" x2="633.5" y2="647.6" stroke="#3a3a3a" stroke-width="0.9" />
<path d="M633.5,557.2 L632,551.45 L635,551.45 Z" fill="#222"/>
<path d="M633.5,578.2 L635,583.95 L632,583.95 Z" fill="#222"/>
<line x1="626.4" y1="623.6" x2="695.8" y2="623.6" stroke="#3a3a3a" stroke-width="0.75" />
<path d="M635.1,623.6 L629.92,625.1 L629.92,622.1 Z" fill="#222"/>
<path d="M650.2,623.6 L655.38,622.1 L655.38,625.1 Z" fill="#222"/>
<text x="660.4" y="621.2" font-size="10" text-anchor="start" fill="#222" stroke="#222" stroke-width="0.22" font-family='"Liberation Sans", sans-serif' >102±0.1</text>
<line x1="578" y1="639.6" x2="619.2" y2="639.6" stroke="#3a3a3a" stroke-width="0.75" />
<path d="M619.2,639.6 L613.45,641.1 L613.45,638.1 Z" fill="#222"/>
<line x1="635.1" y1="639.6" x2="619.2" y2="639.6" stroke="#3a3a3a" stroke-width="0.5" />
<text x="577.8" y="637.6" font-size="10" text-anchor="start" fill="#222" stroke="#222" stroke-width="0.22" font-family='"Liberation Sans", sans-serif' >100±0.1</text>
<line x1="656.9" y1="639.6" x2="701.2" y2="639.6" stroke="#3a3a3a" stroke-width="0.75" />
<path d="M656.9,639.6 L662.65,638.1 L662.65,641.1 Z" fill="#222"/>
<text x="665.2" y="637.6" font-size="10" text-anchor="start" fill="#222" stroke="#222" stroke-width="0.22" font-family='"Liberation Sans", sans-serif' >153±0.1</text>
<text x="584.2" y="609.6" font-size="10" text-anchor="start" fill="#222" stroke="#222" stroke-width="0.22" font-family='"Liberation Sans", sans-serif' ><tspan font-style="italic">ϕ</tspan>12H7</text>
<line x1="601" y1="596.4" x2="616.2" y2="579" stroke="#3a3a3a" stroke-width="0.75" />
<path d="M616.8,578.2 L614.54,583.09 L612.27,581.12 Z" fill="#222"/>
<text x="663.4" y="598.4" font-size="10" text-anchor="start" fill="#222" stroke="#222" stroke-width="0.22" font-family='"Liberation Sans", sans-serif' >2-<tspan font-style="italic">ϕ</tspan>16H7</text>
<line x1="665" y1="590" x2="656.8" y2="580" stroke="#3a3a3a" stroke-width="0.75" />
<path d="M656.4,579.6 L660.88,582.6 L658.58,584.53 Z" fill="#222"/>
<text x="631.2" y="671.6" font-size="13" text-anchor="start" fill="#62b945" stroke="#62b945" stroke-width="0.22" font-family='"Liberation Sans", sans-serif' ><tspan font-family='"Liberation Sans","Noto Serif CJK SC",serif' font-size="13" font-weight="300" fill="#86c873" stroke="none">视图</tspan><tspan font-size="15" dx="1.5">C</tspan></text>
</svg>
</body>
</html>
